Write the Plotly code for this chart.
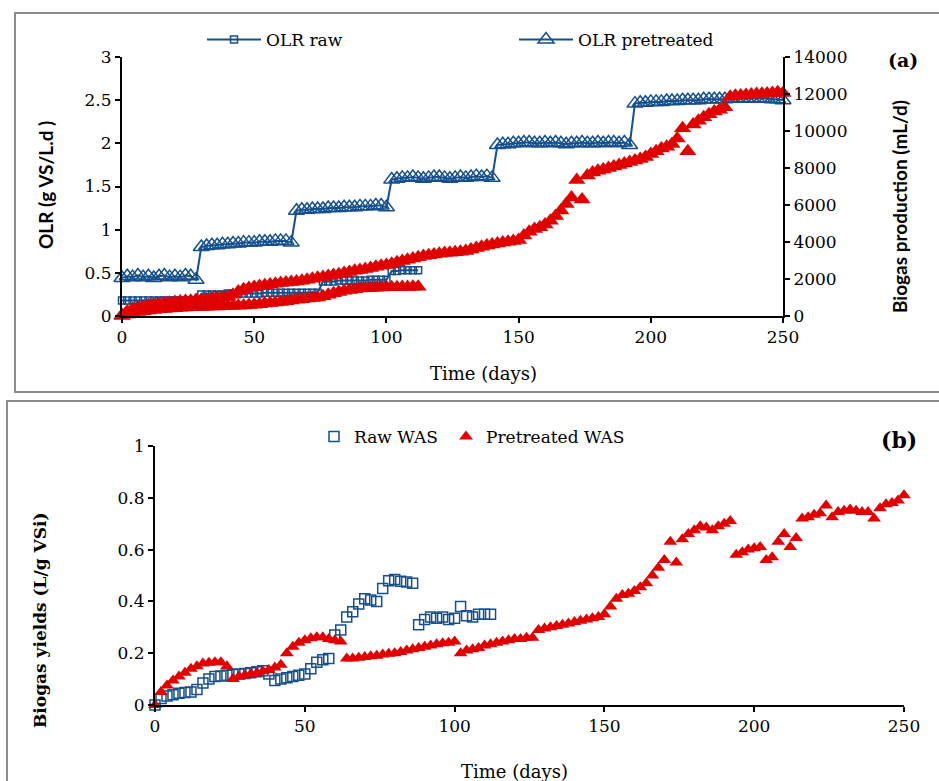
import plotly.graph_objects as go

# ---------------- DATA ----------------
days_a = list(range(0, 251, 2))
days_raw = list(range(0, 113, 2))

olr_pretreated = [
    0.44, 0.46, 0.45, 0.47, 0.45, 0.46, 0.44, 0.46, 0.47, 0.45, 0.46, 0.45, 0.47, 0.46, 0.42,
    0.80, 0.81, 0.82, 0.82, 0.83, 0.83, 0.84, 0.84, 0.85, 0.85, 0.85, 0.86, 0.86, 0.86, 0.87, 0.87, 0.87, 0.85,
    1.22, 1.23, 1.23, 1.24, 1.24, 1.24, 1.25, 1.25, 1.25, 1.26, 1.26, 1.26, 1.27, 1.27, 1.27, 1.28, 1.28, 1.26,
    1.58, 1.59, 1.60, 1.60, 1.61, 1.60, 1.59, 1.60, 1.61, 1.61, 1.60, 1.59, 1.60, 1.61, 1.60, 1.61, 1.62, 1.61, 1.62, 1.60,
    1.98, 1.99, 1.99, 2.00, 2.00, 2.01, 2.01, 2.00, 2.00, 2.01, 2.00, 2.01, 2.00, 1.99, 2.00, 2.00, 2.01, 2.00, 2.00, 2.01, 2.00, 2.01, 2.01, 2.00, 2.01, 1.98,
    2.46, 2.47, 2.47, 2.48, 2.48, 2.48, 2.49, 2.49, 2.49, 2.50, 2.50, 2.50, 2.50, 2.51, 2.51, 2.51, 2.51, 2.51, 2.52, 2.52, 2.52, 2.52, 2.52, 2.52, 2.52, 2.52, 2.51, 2.51, 2.50,
]

olr_raw = [
    0.18, 0.18, 0.18, 0.18, 0.18, 0.18, 0.18, 0.18, 0.18, 0.18, 0.18, 0.18, 0.18, 0.18, 0.18,
    0.25, 0.25, 0.25, 0.25, 0.25, 0.26, 0.26, 0.26, 0.26, 0.26, 0.26, 0.26, 0.27, 0.27, 0.27, 0.27, 0.27, 0.27, 0.27, 0.27, 0.27, 0.27, 0.27,
    0.40, 0.40, 0.40, 0.41, 0.41, 0.41, 0.41, 0.41, 0.41, 0.42, 0.42, 0.42, 0.42,
    0.52, 0.52, 0.53, 0.53, 0.53, 0.53,
]

biogas_pretreated = [
    50, 250, 380, 450, 520, 580, 620, 660, 690, 720, 750, 780, 810, 830, 860, 880,
    910, 940, 970, 1000, 1040, 1150, 1320, 1450, 1520, 1570, 1620, 1660, 1700, 1740, 1780,
    1810, 1840, 1870, 1910, 1960, 2010, 2070, 2110, 2160, 2210, 2260, 2320, 2380, 2440, 2490,
    2540, 2600, 2660, 2710, 2760, 2830, 2900, 2970, 3040, 3110, 3180, 3240, 3290, 3330, 3370,
    3400, 3420, 3440, 3470, 3520, 3590, 3670, 3740, 3810, 3870, 3920, 3970, 4020, 4060, 4110,
    4350, 4560, 4700, 4800, 4950, 5150, 5400, 5700, 6050, 6400, 7350, 6300, 7600, 7750, 7850,
    7920, 8000, 8080, 8160, 8240, 8320, 8400, 8480, 8600, 8750, 8900, 9050, 9150, 9300, 9600,
    10150, 8900, 10350, 10550, 10750, 10900, 11050, 11150, 11280, 11850, 11900, 11920, 11950, 11970, 12000,
    12020, 12030, 12060, 12100, 12050,
]

biogas_raw = [
    0, 80, 150, 210, 260, 300, 330, 360, 380, 400, 420, 440, 455, 470, 480, 490,
    500, 510, 520, 530, 540, 550, 560, 570, 590, 610, 640, 670, 700, 730, 760,
    800, 840, 880, 910, 940, 970, 1000, 1070, 1150, 1230, 1300, 1360, 1410, 1450, 1480,
    1500, 1520, 1530, 1540, 1550, 1560, 1560, 1570, 1570, 1580, 1580,
]

days_b = list(range(0, 251, 2))
days_b_raw = list(range(0, 113, 2))

yield_pretreated = [
    0.0, 0.05, 0.075, 0.095, 0.11, 0.125, 0.14, 0.15, 0.16, 0.163, 0.165, 0.165, 0.15, 0.10, 0.11, 0.115,
    0.12, 0.123, 0.13, 0.135, 0.145, 0.155, 0.20, 0.225, 0.24, 0.25, 0.258, 0.262, 0.262, 0.255, 0.25,
    0.245, 0.18, 0.18, 0.182, 0.185, 0.188, 0.19, 0.195, 0.198, 0.20, 0.205, 0.21, 0.215, 0.22, 0.225,
    0.23, 0.235, 0.238, 0.24, 0.245, 0.20, 0.21, 0.215, 0.22, 0.23, 0.235, 0.24, 0.245, 0.25, 0.255,
    0.255, 0.26, 0.26, 0.29, 0.295, 0.30, 0.305, 0.31, 0.315, 0.32, 0.325, 0.33, 0.335, 0.34, 0.35,
    0.38, 0.41, 0.425, 0.43, 0.44, 0.455, 0.47, 0.50, 0.53, 0.56, 0.63, 0.55, 0.64, 0.66, 0.675,
    0.69, 0.685, 0.675, 0.69, 0.70, 0.71, 0.58, 0.59, 0.60, 0.605, 0.61, 0.56, 0.57, 0.63, 0.66,
    0.61, 0.645, 0.72, 0.725, 0.735, 0.74, 0.77, 0.725, 0.745, 0.75, 0.755, 0.75, 0.745, 0.745, 0.72,
    0.76, 0.775, 0.78, 0.79, 0.81,
]

yield_raw = [
    0.0, 0.025, 0.035, 0.04, 0.045, 0.048, 0.05, 0.06, 0.085, 0.10, 0.11, 0.112, 0.115, 0.118, 0.12, 0.122,
    0.125, 0.128, 0.132, 0.12, 0.095, 0.10, 0.105, 0.11, 0.115, 0.12, 0.14, 0.165, 0.175, 0.18, 0.27,
    0.29, 0.34, 0.36, 0.39, 0.41, 0.405, 0.40, 0.45, 0.48, 0.485, 0.478, 0.475, 0.47, 0.31, 0.33,
    0.34, 0.335, 0.34, 0.33, 0.335, 0.38, 0.345, 0.34, 0.35, 0.35, 0.35,
]

# ---------------- STYLE ----------------
W, H = 939, 781
BLUE = "#154F8C"
RED = "#E00000"
SERIF = "DejaVu Serif"
SANS = "Lato"


def px(x):
    return x / W


def py(y):
    return 1 - y / H


fig = go.Figure()

# Panel (a)
fig.add_trace(go.Scatter(
    x=days_raw, y=olr_raw, name="OLR raw", mode="lines+markers",
    line=dict(color=BLUE, width=2),
    marker=dict(symbol="square-open", size=7, color=BLUE, line=dict(width=1.5, color=BLUE)),
    xaxis="x", yaxis="y", legend="legend", cliponaxis=False))
fig.add_trace(go.Scatter(
    x=days_a, y=olr_pretreated, name="OLR pretreated", mode="lines+markers",
    line=dict(color=BLUE, width=2),
    marker=dict(symbol="triangle-up-open", size=14, color=BLUE, line=dict(width=1.5, color=BLUE)),
    xaxis="x", yaxis="y", legend="legend2", cliponaxis=False))
fig.add_trace(go.Scatter(
    x=days_raw, y=biogas_raw, name="Biogas raw", mode="markers",
    marker=dict(symbol="triangle-up", size=15, color=RED),
    xaxis="x", yaxis="y2", showlegend=False, cliponaxis=False))
fig.add_trace(go.Scatter(
    x=days_a, y=biogas_pretreated, name="Biogas pretreated", mode="markers",
    marker=dict(symbol="triangle-up", size=15, color=RED),
    xaxis="x", yaxis="y2", showlegend=False, cliponaxis=False))

# Panel (b)
fig.add_trace(go.Scatter(
    x=days_b_raw, y=yield_raw, name="Raw WAS", mode="markers",
    marker=dict(symbol="square-open", size=10, color=BLUE, line=dict(width=1.5, color=BLUE)),
    xaxis="x2", yaxis="y3", legend="legend3", cliponaxis=False))
fig.add_trace(go.Scatter(
    x=days_b, y=yield_pretreated, name="Pretreated WAS", mode="markers",
    marker=dict(symbol="triangle-up", size=12, color=RED),
    xaxis="x2", yaxis="y3", legend="legend4", cliponaxis=False))

axis_common = dict(
    showgrid=False, zeroline=False, showline=True, linecolor="black", linewidth=2,
    ticks="outside", ticklen=5, tickwidth=2, tickcolor="black",
    tickfont=dict(family=SERIF, size=17, color="black"),
)

fig.update_layout(
    width=W, height=H,
    margin=dict(l=0, r=0, t=0, b=0, autoexpand=False),
    paper_bgcolor="white", plot_bgcolor="white",
    xaxis=dict(domain=[px(122), px(783)], range=[0, 250], dtick=50, anchor="y", **axis_common),
    yaxis=dict(domain=[py(316), py(57)], range=[0, 3], dtick=0.5, anchor="x", **axis_common),
    yaxis2=dict(range=[0, 14000], dtick=2000, tickformat="d", overlaying="y", side="right",
                anchor="x", **axis_common),
    xaxis2=dict(domain=[px(155), px(904)], range=[0, 250], dtick=50, anchor="y3", **axis_common),
    yaxis3=dict(domain=[py(705), py(446)], range=[0, 1], dtick=0.2, anchor="x2", **axis_common),
)

leg_common = dict(orientation="h", bgcolor="rgba(0,0,0,0)", borderwidth=0,
                  font=dict(family=SERIF, size=17, color="black"),
                  xanchor="left", yanchor="middle")
fig.update_layout(
    legend=dict(x=px(202), y=py(40), itemwidth=54, **leg_common),
    legend2=dict(x=px(514), y=py(40), itemwidth=54, **leg_common),
    legend3=dict(x=px(314), y=py(437), **leg_common),
    legend4=dict(x=px(446), y=py(437), **leg_common),
)

annotations = [
    dict(text="<b>(a)</b>", x=px(903), y=py(60), font=dict(family=SERIF, size=19)),
    dict(text="<b>(b)</b>", x=px(899), y=py(440), font=dict(family=SERIF, size=22)),
    dict(text="Time (days)", x=px(484), y=py(373), font=dict(family=SERIF, size=18)),
    dict(text="Time (days)", x=px(514), y=py(771), font=dict(family=SERIF, size=18)),
    dict(text="<b>OLR (g VS/L.d )</b>", x=px(45), y=py(185), textangle=-90,
         font=dict(family=SANS, size=19)),
    dict(text="<b>Biogas production (mL/d)</b>", x=px(899), y=py(207), textangle=-90,
         font=dict(family=SANS, size=19)),
    dict(text="<b>Biogas yields (L/g VSi)</b>", x=px(40), y=py(620), textangle=-90,
         font=dict(family=SERIF, size=17)),
]
for a in annotations:
    a.update(xref="paper", yref="paper", showarrow=False, xanchor="center", yanchor="middle")
    a["font"]["color"] = "black"
fig.update_layout(annotations=annotations)

fig.update_layout(shapes=[
    dict(type="rect", xref="paper", yref="paper", x0=px(15), x1=1.01, y0=py(392), y1=py(13),
         line=dict(color="#8C8C8C", width=2), layer="below"),
    dict(type="rect", xref="paper", yref="paper", x0=px(7), x1=1.01, y0=-0.01, y1=py(401),
         line=dict(color="#8C8C8C", width=2), layer="below"),
])

fig.write_html("out.html")
